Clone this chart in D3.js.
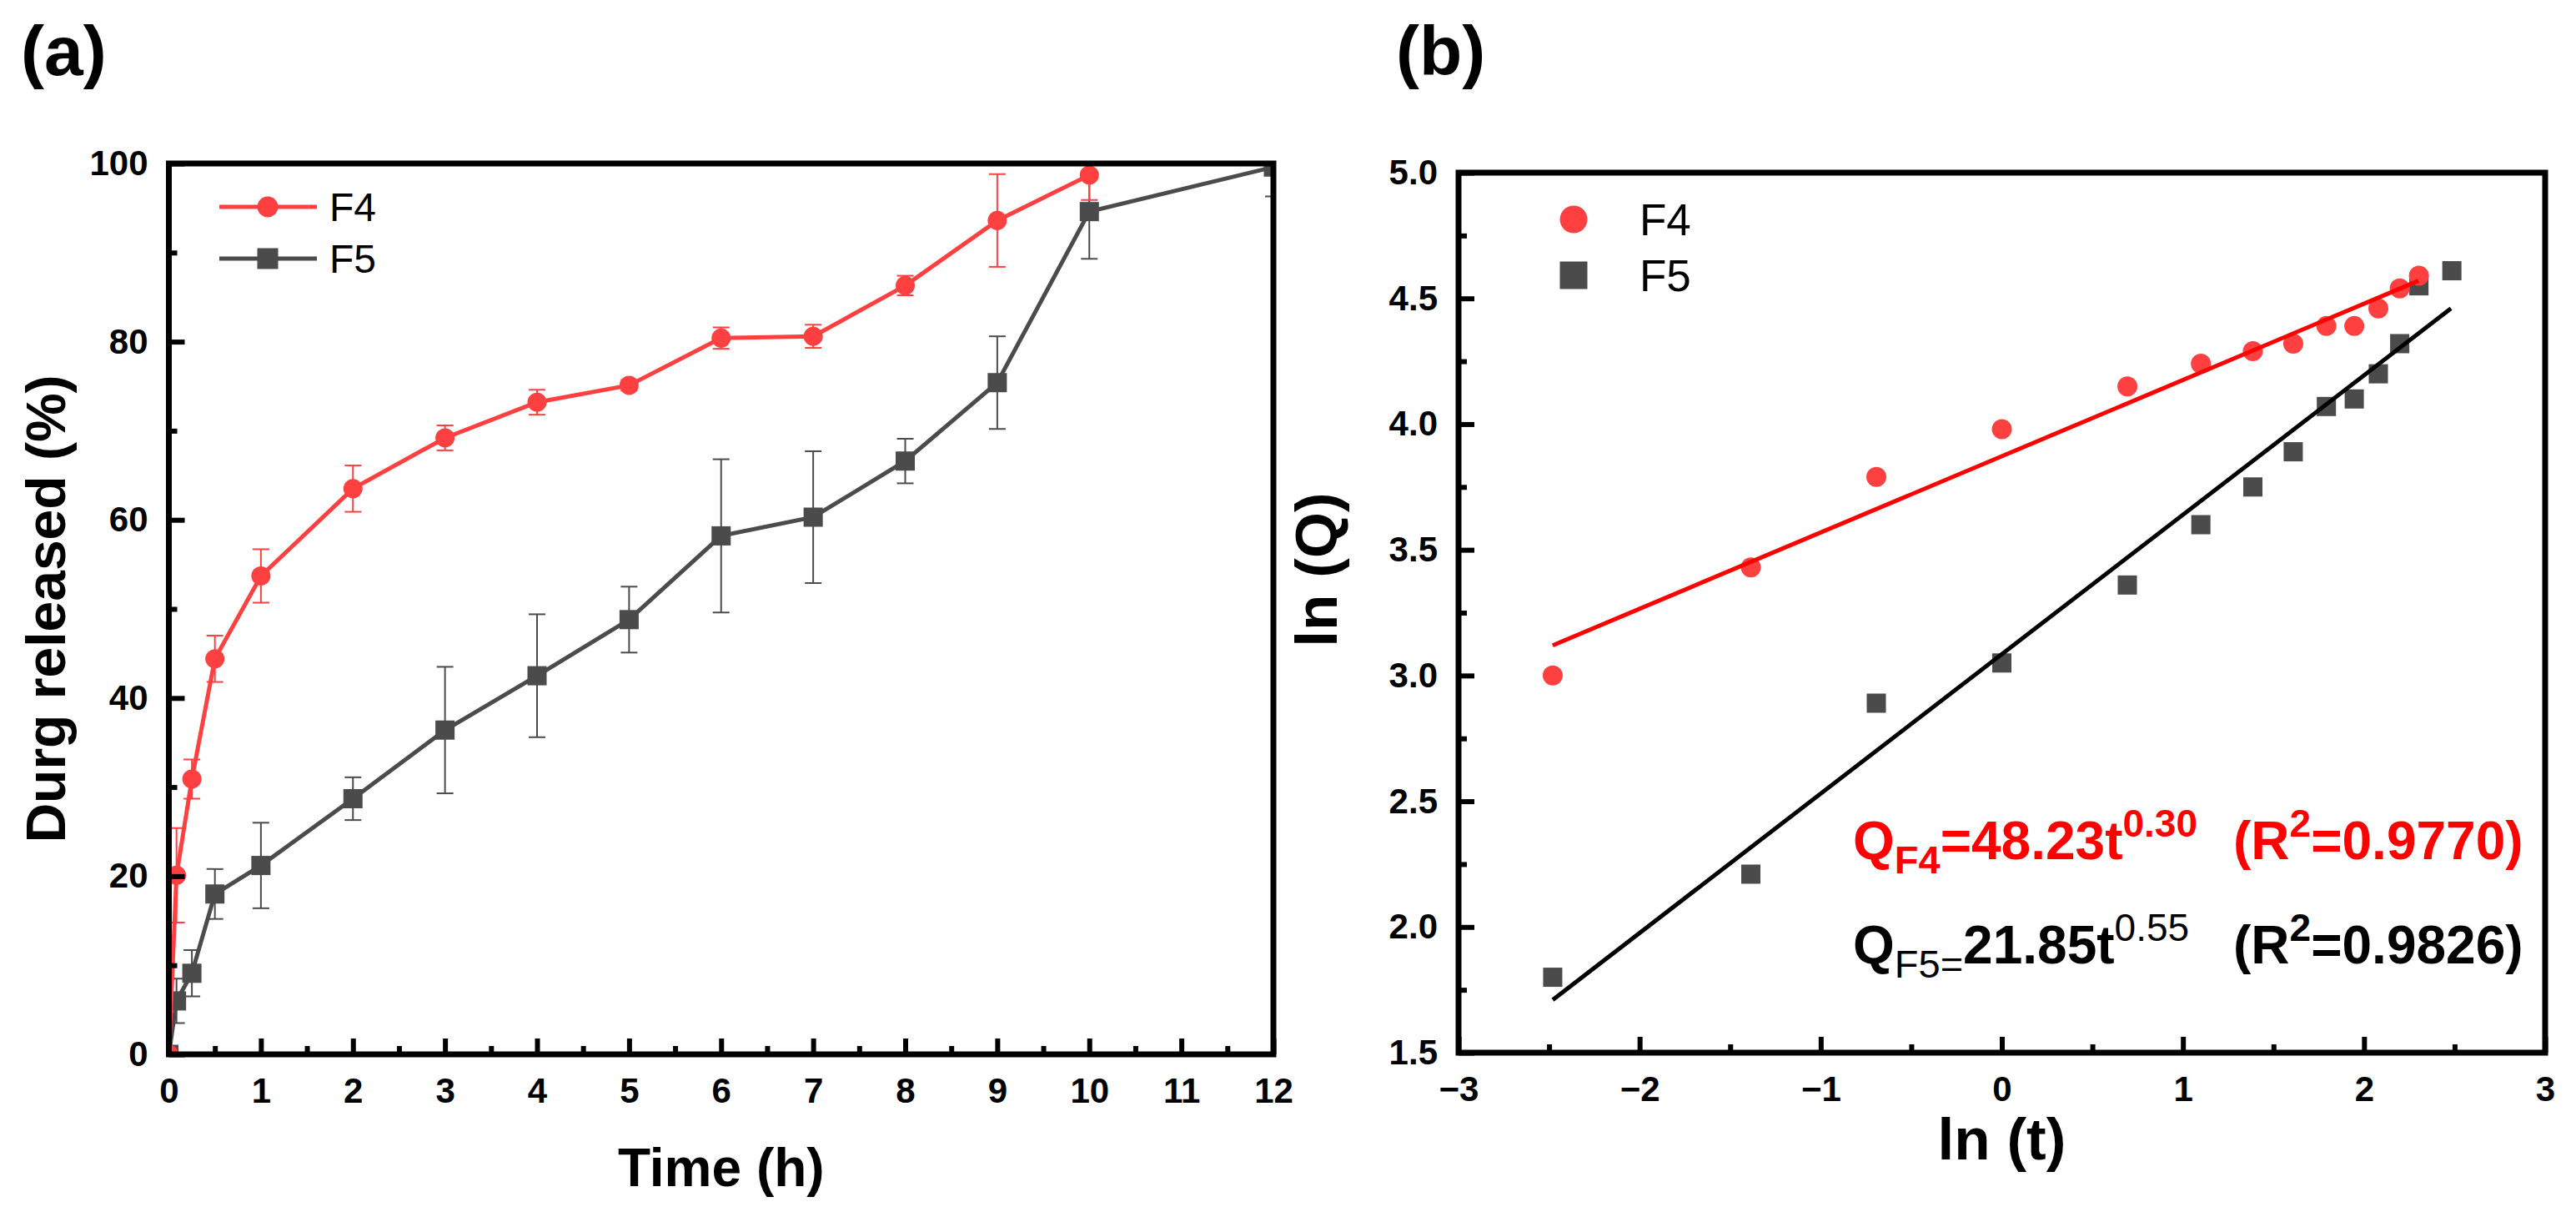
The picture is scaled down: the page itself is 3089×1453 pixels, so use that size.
<!DOCTYPE html>
<html>
<head>
<meta charset="utf-8">
<script src="https://cdn.jsdelivr.net/npm/d3@7"></script>
<style>
  html, body { margin: 0; padding: 0; background: #fff; }
  svg { display: block; }
</style>
</head>
<body>
<div id="chart"></div>
<script>
// ---- data ----
const timeH = [0, 0.083, 0.25, 0.5, 1, 2, 3, 4, 5, 6, 7, 8, 9, 10, 12];
const releaseF4 = [0, 20.1, 30.9, 44.4, 53.7, 63.5, 69.2, 73.2, 75.1, 80.4, 80.6, 86.3, 93.6, 98.7];
const errorF4 = [0, 5.3, 2.2, 2.6, 3.0, 2.6, 1.4, 1.4, 0.6, 1.2, 1.3, 1.1, 5.2, 2.8];
const releaseF5 = [0, 6.0, 9.1, 18.0, 21.2, 28.7, 36.4, 42.5, 48.8, 58.2, 60.3, 66.6, 75.4, 94.6, 99.6];
const errorF5 = [0, 2.5, 2.6, 2.8, 4.8, 2.4, 7.1, 6.9, 3.7, 8.6, 7.4, 2.5, 5.2, 5.3, 3.3];

const lnTimeF4 = [-2.48, -1.386, -0.693, 0, 0.693, 1.099, 1.386, 1.609, 1.792, 1.946, 2.079, 2.197, 2.303];
const lnQF4 = [3.00, 3.43, 3.79, 3.98, 4.15, 4.24, 4.29, 4.32, 4.39, 4.39, 4.46, 4.54, 4.59];
const lnTimeF5 = [-2.48, -1.386, -0.693, 0, 0.693, 1.099, 1.386, 1.609, 1.792, 1.946, 2.079, 2.197, 2.303, 2.485];
const lnQF5 = [1.80, 2.21, 2.89, 3.05, 3.36, 3.60, 3.75, 3.89, 4.07, 4.10, 4.20, 4.32, 4.55, 4.61];

// fitted lines (end points as drawn)
const fitF4 = [[-2.48, 3.12], [2.30, 4.57]];
const fitF5 = [[-2.48, 1.71], [2.48, 4.46]];

const xTicksA = [0, 1, 2, 3, 4, 5, 6, 7, 8, 9, 10, 11, 12];
const yTicksA = [0, 20, 40, 60, 80, 100];
const xTicksB = [-3, -2, -1, 0, 1, 2, 3];
const yTicksB = [1.5, 2.0, 2.5, 3.0, 3.5, 4.0, 4.5, 5.0];

const RED = '#ff4040', GREY = '#4b4b4b', FONT = '"Liberation Sans", Arial, sans-serif';

const W = 3089, H = 1453;
const svg = d3.select('#chart').append('svg').attr('width', W).attr('height', H)
  .style('font-family', FONT);

const boxA = {left: 202.5, right: 1527, top: 196, bottom: 1264};
const boxB = {left: 1749, right: 3052, top: 207, bottom: 1262};

const xA = d3.scaleLinear().domain([0, 12]).range([boxA.left, boxA.right]);
const yA = d3.scaleLinear().domain([0, 100]).range([boxA.bottom, boxA.top]);
const xB = d3.scaleLinear().domain([-3, 3]).range([boxB.left, boxB.right]);
const yB = d3.scaleLinear().domain([1.5, 5]).range([boxB.bottom, boxB.top]);

const defs = svg.append('defs');
function clip(id, b) {
  defs.append('clipPath').attr('id', id).append('rect')
    .attr('x', b.left).attr('y', b.top).attr('width', b.right - b.left).attr('height', b.bottom - b.top);
  return `url(#${id})`;
}

const minus = d => (d < 0 ? '\u2212' + Math.abs(d) : String(d));

function drawAxes(box, x, y, xt, yt, xMinor, yMinor, fx, fy) {
  const g = svg.append('g');
  const styleAxis = sel => {
    sel.select('.domain').remove();
    sel.selectAll('.tick line').attr('stroke', '#000').attr('stroke-width', 6);
    sel.selectAll('.tick text').attr('fill', '#000').style('font-size', '42px')
      .style('font-weight', 'bold').style('font-family', FONT);
  };
  g.append('g').attr('transform', `translate(0,${box.bottom})`)
    .call(d3.axisBottom(x).tickValues(xMinor).tickSize(-10).tickFormat('')).call(styleAxis);
  g.append('g').attr('transform', `translate(0,${box.bottom})`)
    .call(d3.axisBottom(x).tickValues(xt).tickSize(-19).tickPadding(28).tickFormat(fx)).call(styleAxis);
  g.append('g').attr('transform', `translate(${box.left},0)`)
    .call(d3.axisLeft(y).tickValues(yMinor).tickSize(-10).tickFormat('')).call(styleAxis);
  g.append('g').attr('transform', `translate(${box.left},0)`)
    .call(d3.axisLeft(y).tickValues(yt).tickSize(-19).tickPadding(25).tickFormat(fy)).call(styleAxis);
  g.append('rect').attr('x', box.left).attr('y', box.top)
    .attr('width', box.right - box.left).attr('height', box.bottom - box.top)
    .attr('fill', 'none').attr('stroke', '#000').attr('stroke-width', 7);
}

function marker(g, shape, cx, cy, size, color) {
  if (shape === 'circle') {
    g.append('circle').attr('cx', cx).attr('cy', cy).attr('r', size / 2).attr('fill', color);
  } else {
    g.append('rect').attr('x', cx - size / 2).attr('y', cy - size / 2)
      .attr('width', size).attr('height', size).attr('fill', color);
  }
}

// ---- panel (a) ----
const gA = svg.append('g').attr('clip-path', clip('clipA', boxA));
function releaseSeries(vals, errs, color, shape) {
  const pts = vals.map((v, i) => ({t: timeH[i], v, e: errs[i]}));
  gA.append('path').datum(pts)
    .attr('d', d3.line().x(d => xA(d.t)).y(d => yA(d.v)))
    .attr('fill', 'none').attr('stroke', color).attr('stroke-width', 5);
  pts.filter(d => d.e > 0).forEach(d => {
    const cx = xA(d.t), y1 = yA(d.v - d.e), y2 = yA(d.v + d.e);
    gA.append('line').attr('x1', cx).attr('x2', cx).attr('y1', y1).attr('y2', y2)
      .attr('stroke', color).attr('stroke-width', 2);
    [y1, y2].forEach(yy => gA.append('line').attr('x1', cx - 10).attr('x2', cx + 10)
      .attr('y1', yy).attr('y2', yy).attr('stroke', color).attr('stroke-width', 2));
  });
  pts.forEach(d => marker(gA, shape, xA(d.t), yA(d.v), 23, color));
}
releaseSeries(releaseF5, errorF5, GREY, 'square');
releaseSeries(releaseF4, errorF4, RED, 'circle');

drawAxes(boxA, xA, yA, xTicksA, yTicksA, d3.range(0.5, 12, 1), d3.range(10, 100, 20), d3.format('d'), d3.format('d'));

// legend (a)
[['F4', RED, 'circle', 248], ['F5', GREY, 'square', 310]].forEach(([name, color, shape, ly]) => {
  svg.append('line').attr('x1', 263).attr('x2', 380).attr('y1', ly).attr('y2', ly)
    .attr('stroke', color).attr('stroke-width', 5);
  marker(svg, shape, 321, ly, 25, color);
  svg.append('text').attr('x', 395).attr('y', ly + 17).text(name)
    .style('font-size', '48px').attr('fill', '#000');
});

svg.append('text').attr('x', boxA.left + (boxA.right - boxA.left) / 2).attr('y', 1422)
  .attr('text-anchor', 'middle').style('font-size', '64px').style('font-weight', 'bold').text('Time (h)');
svg.append('text').attr('transform', `translate(78,730) rotate(-90)`)
  .attr('text-anchor', 'middle').style('font-size', '66px').style('font-weight', 'bold').text('Durg released (%)');
svg.append('text').attr('x', 25).attr('y', 90).style('font-size', '84px').style('font-weight', 'bold').text('(a)');

// ---- panel (b) ----
const gB = svg.append('g').attr('clip-path', clip('clipB', boxB));
lnTimeF5.forEach((t, i) => marker(gB, 'square', xB(t), yB(lnQF5[i]), 23, GREY));
lnTimeF4.forEach((t, i) => marker(gB, 'circle', xB(t), yB(lnQF4[i]), 24, RED));
const fitLine = d3.line().x(d => xB(d[0])).y(d => yB(d[1]));
gB.append('path').datum(fitF4).attr('d', fitLine).attr('stroke', '#ff0000').attr('stroke-width', 5).attr('fill', 'none');
gB.append('path').datum(fitF5).attr('d', fitLine).attr('stroke', '#000').attr('stroke-width', 5).attr('fill', 'none');

drawAxes(boxB, xB, yB, xTicksB, yTicksB, d3.range(-2.5, 3, 1), d3.range(1.75, 5, 0.5), minus, d3.format('.1f'));

// legend (b)
[['F4', RED, 'circle', 263], ['F5', GREY, 'square', 330]].forEach(([name, color, shape, ly]) => {
  marker(svg, shape, 1887, ly, 33, color);
  svg.append('text').attr('x', 1966).attr('y', ly + 19).text(name)
    .style('font-size', '53px').attr('fill', '#000');
});

// equations
function equation(y, color, sub, coef, power, r2, smallWeight) {
  const t = svg.append('text').attr('x', 2222).attr('y', y).attr('fill', color)
    .style('font-size', '64px').style('font-weight', 'bold');
  t.append('tspan').text('Q');
  t.append('tspan').attr('dy', 17).style('font-size', '47px').style('font-weight', smallWeight).text(sub);
  t.append('tspan').attr('dy', -17).text(coef);
  t.append('tspan').attr('dy', -27).style('font-size', '46px').style('font-weight', smallWeight).text(power);
  const r = svg.append('text').attr('x', 2678).attr('y', y).attr('fill', color)
    .style('font-size', '64px').style('font-weight', 'bold');
  r.append('tspan').text('(R');
  r.append('tspan').attr('dy', -27).style('font-size', '46px').text('2');
  r.append('tspan').attr('dy', 27).text('=' + r2 + ')');
}
equation(1030, '#ff0000', 'F4', '=48.23t', '0.30', '0.9770', 'bold');
equation(1155, '#000', 'F5=', '21.85t', '0.55', '0.9826', 'normal');

svg.append('text').attr('x', boxB.left + (boxB.right - boxB.left) / 2).attr('y', 1390)
  .attr('text-anchor', 'middle').style('font-size', '71px').style('font-weight', 'bold').text('ln (t)');
svg.append('text').attr('transform', `translate(1603,683) rotate(-90)`)
  .attr('text-anchor', 'middle').style('font-size', '71px').style('font-weight', 'bold').text('ln (Q)');
svg.append('text').attr('x', 1674).attr('y', 90).style('font-size', '84px').style('font-weight', 'bold').text('(b)');
</script>
</body>
</html>
